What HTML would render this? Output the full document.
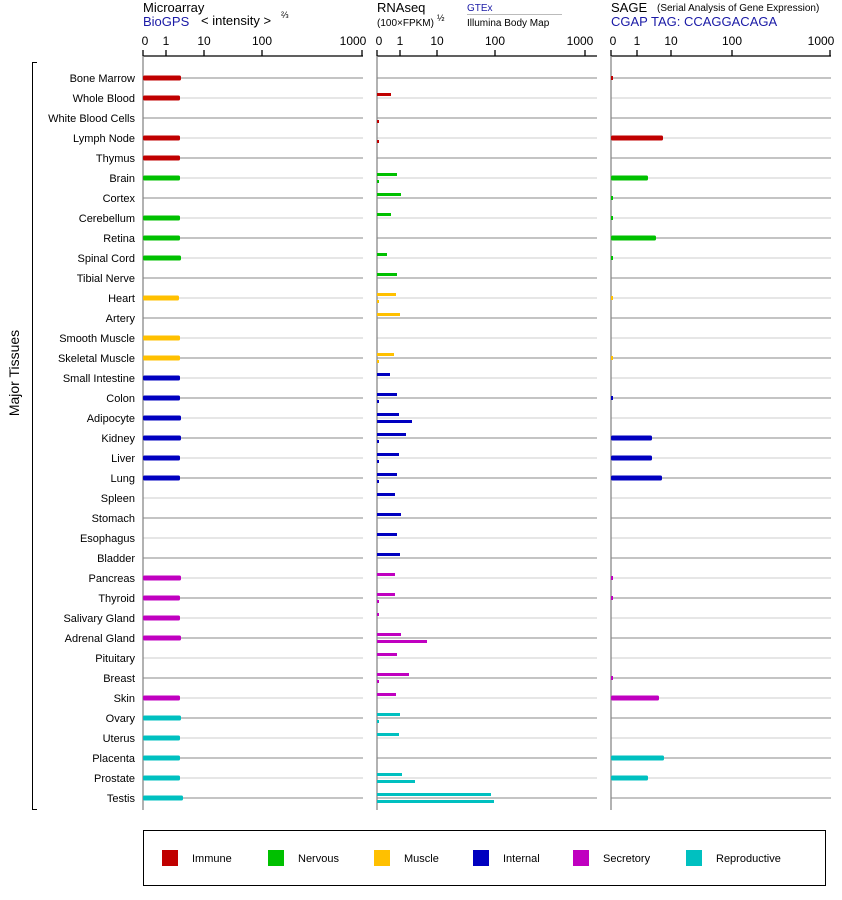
<!DOCTYPE html>
<html><head><meta charset="utf-8"><style>
html,body{margin:0;padding:0;background:#fff}
svg{display:block;font-family:"Liberation Sans",sans-serif}
.l{font-size:11px;text-anchor:end;fill:#000}
.t{font-size:12px;text-anchor:middle;fill:#000}
.d{stroke:#888;stroke-width:1}
.g{stroke:#ccc;stroke-width:1}
.im{fill:#c00000}.ne{fill:#00c000}.mu{fill:#ffc000}.in{fill:#0000c0}.se{fill:#c000c0}.re{fill:#00c0c0}
</style></head><body>
<svg width="842" height="900" viewBox="0 0 842 900" xmlns="http://www.w3.org/2000/svg">
<text x="143" y="12" font-size="13">Microarray</text>
<text x="143" y="26" font-size="13" fill="#1a1aa6">BioGPS</text>
<text x="201" y="25" font-size="13">&lt; intensity &gt;</text>
<text x="281" y="18" font-size="9">⅔</text>
<text x="377" y="12" font-size="13">RNAseq</text>
<text x="377" y="26" font-size="10">(100×FPKM)</text>
<text x="437" y="21" font-size="9">½</text>
<text x="467" y="11" font-size="10" fill="#1a1aa6">GTEx</text>
<line x1="467" y1="14.5" x2="562" y2="14.5" stroke="#bbb"/>
<text x="467" y="26" font-size="10">Illumina Body Map</text>
<text x="611" y="12" font-size="13">SAGE</text>
<text x="657" y="11" font-size="10">(Serial Analysis of Gene Expression)</text>
<text x="611" y="26" font-size="13" fill="#1a1aa6">CGAP TAG: CCAGGACAGA</text>
<g stroke="#000" stroke-width="1.3">
<line x1="143" y1="56" x2="363" y2="56"/>
<line x1="143" y1="50" x2="143" y2="56"/><line x1="166" y1="50" x2="166" y2="56"/><line x1="204" y1="50" x2="204" y2="56"/><line x1="262" y1="50" x2="262" y2="56"/><line x1="362" y1="50" x2="362" y2="56"/>
<line x1="377" y1="56" x2="597" y2="56"/>
<line x1="377" y1="50" x2="377" y2="56"/><line x1="400" y1="50" x2="400" y2="56"/><line x1="437" y1="50" x2="437" y2="56"/><line x1="495" y1="50" x2="495" y2="56"/><line x1="585" y1="50" x2="585" y2="56"/>
<line x1="611" y1="56" x2="831" y2="56"/>
<line x1="611" y1="50" x2="611" y2="56"/><line x1="637" y1="50" x2="637" y2="56"/><line x1="671" y1="50" x2="671" y2="56"/><line x1="732" y1="50" x2="732" y2="56"/><line x1="830" y1="50" x2="830" y2="56"/>
</g>
<g class="t">
<text x="145" y="45">0</text><text x="166" y="45">1</text><text x="204" y="45">10</text><text x="262" y="45">100</text><text x="353" y="45">1000</text>
<text x="379" y="45">0</text><text x="400" y="45">1</text><text x="437" y="45">10</text><text x="495" y="45">100</text><text x="580" y="45">1000</text>
<text x="613" y="45">0</text><text x="637" y="45">1</text><text x="671" y="45">10</text><text x="732" y="45">100</text><text x="821" y="45">1000</text>
</g>
<g>
<g class="d"><line x1="143" y1="78" x2="363" y2="78"/><line x1="377" y1="78" x2="597" y2="78"/><line x1="611" y1="78" x2="831" y2="78"/></g>
<g class="g"><line x1="143" y1="98" x2="363" y2="98"/><line x1="377" y1="98" x2="597" y2="98"/><line x1="611" y1="98" x2="831" y2="98"/></g>
<g class="d"><line x1="143" y1="118" x2="363" y2="118"/><line x1="377" y1="118" x2="597" y2="118"/><line x1="611" y1="118" x2="831" y2="118"/></g>
<g class="g"><line x1="143" y1="138" x2="363" y2="138"/><line x1="377" y1="138" x2="597" y2="138"/><line x1="611" y1="138" x2="831" y2="138"/></g>
<g class="d"><line x1="143" y1="158" x2="363" y2="158"/><line x1="377" y1="158" x2="597" y2="158"/><line x1="611" y1="158" x2="831" y2="158"/></g>
<g class="g"><line x1="143" y1="178" x2="363" y2="178"/><line x1="377" y1="178" x2="597" y2="178"/><line x1="611" y1="178" x2="831" y2="178"/></g>
<g class="d"><line x1="143" y1="198" x2="363" y2="198"/><line x1="377" y1="198" x2="597" y2="198"/><line x1="611" y1="198" x2="831" y2="198"/></g>
<g class="g"><line x1="143" y1="218" x2="363" y2="218"/><line x1="377" y1="218" x2="597" y2="218"/><line x1="611" y1="218" x2="831" y2="218"/></g>
<g class="d"><line x1="143" y1="238" x2="363" y2="238"/><line x1="377" y1="238" x2="597" y2="238"/><line x1="611" y1="238" x2="831" y2="238"/></g>
<g class="g"><line x1="143" y1="258" x2="363" y2="258"/><line x1="377" y1="258" x2="597" y2="258"/><line x1="611" y1="258" x2="831" y2="258"/></g>
<g class="d"><line x1="143" y1="278" x2="363" y2="278"/><line x1="377" y1="278" x2="597" y2="278"/><line x1="611" y1="278" x2="831" y2="278"/></g>
<g class="g"><line x1="143" y1="298" x2="363" y2="298"/><line x1="377" y1="298" x2="597" y2="298"/><line x1="611" y1="298" x2="831" y2="298"/></g>
<g class="d"><line x1="143" y1="318" x2="363" y2="318"/><line x1="377" y1="318" x2="597" y2="318"/><line x1="611" y1="318" x2="831" y2="318"/></g>
<g class="g"><line x1="143" y1="338" x2="363" y2="338"/><line x1="377" y1="338" x2="597" y2="338"/><line x1="611" y1="338" x2="831" y2="338"/></g>
<g class="d"><line x1="143" y1="358" x2="363" y2="358"/><line x1="377" y1="358" x2="597" y2="358"/><line x1="611" y1="358" x2="831" y2="358"/></g>
<g class="g"><line x1="143" y1="378" x2="363" y2="378"/><line x1="377" y1="378" x2="597" y2="378"/><line x1="611" y1="378" x2="831" y2="378"/></g>
<g class="d"><line x1="143" y1="398" x2="363" y2="398"/><line x1="377" y1="398" x2="597" y2="398"/><line x1="611" y1="398" x2="831" y2="398"/></g>
<g class="g"><line x1="143" y1="418" x2="363" y2="418"/><line x1="377" y1="418" x2="597" y2="418"/><line x1="611" y1="418" x2="831" y2="418"/></g>
<g class="d"><line x1="143" y1="438" x2="363" y2="438"/><line x1="377" y1="438" x2="597" y2="438"/><line x1="611" y1="438" x2="831" y2="438"/></g>
<g class="g"><line x1="143" y1="458" x2="363" y2="458"/><line x1="377" y1="458" x2="597" y2="458"/><line x1="611" y1="458" x2="831" y2="458"/></g>
<g class="d"><line x1="143" y1="478" x2="363" y2="478"/><line x1="377" y1="478" x2="597" y2="478"/><line x1="611" y1="478" x2="831" y2="478"/></g>
<g class="g"><line x1="143" y1="498" x2="363" y2="498"/><line x1="377" y1="498" x2="597" y2="498"/><line x1="611" y1="498" x2="831" y2="498"/></g>
<g class="d"><line x1="143" y1="518" x2="363" y2="518"/><line x1="377" y1="518" x2="597" y2="518"/><line x1="611" y1="518" x2="831" y2="518"/></g>
<g class="g"><line x1="143" y1="538" x2="363" y2="538"/><line x1="377" y1="538" x2="597" y2="538"/><line x1="611" y1="538" x2="831" y2="538"/></g>
<g class="d"><line x1="143" y1="558" x2="363" y2="558"/><line x1="377" y1="558" x2="597" y2="558"/><line x1="611" y1="558" x2="831" y2="558"/></g>
<g class="g"><line x1="143" y1="578" x2="363" y2="578"/><line x1="377" y1="578" x2="597" y2="578"/><line x1="611" y1="578" x2="831" y2="578"/></g>
<g class="d"><line x1="143" y1="598" x2="363" y2="598"/><line x1="377" y1="598" x2="597" y2="598"/><line x1="611" y1="598" x2="831" y2="598"/></g>
<g class="g"><line x1="143" y1="618" x2="363" y2="618"/><line x1="377" y1="618" x2="597" y2="618"/><line x1="611" y1="618" x2="831" y2="618"/></g>
<g class="d"><line x1="143" y1="638" x2="363" y2="638"/><line x1="377" y1="638" x2="597" y2="638"/><line x1="611" y1="638" x2="831" y2="638"/></g>
<g class="g"><line x1="143" y1="658" x2="363" y2="658"/><line x1="377" y1="658" x2="597" y2="658"/><line x1="611" y1="658" x2="831" y2="658"/></g>
<g class="d"><line x1="143" y1="678" x2="363" y2="678"/><line x1="377" y1="678" x2="597" y2="678"/><line x1="611" y1="678" x2="831" y2="678"/></g>
<g class="g"><line x1="143" y1="698" x2="363" y2="698"/><line x1="377" y1="698" x2="597" y2="698"/><line x1="611" y1="698" x2="831" y2="698"/></g>
<g class="d"><line x1="143" y1="718" x2="363" y2="718"/><line x1="377" y1="718" x2="597" y2="718"/><line x1="611" y1="718" x2="831" y2="718"/></g>
<g class="g"><line x1="143" y1="738" x2="363" y2="738"/><line x1="377" y1="738" x2="597" y2="738"/><line x1="611" y1="738" x2="831" y2="738"/></g>
<g class="d"><line x1="143" y1="758" x2="363" y2="758"/><line x1="377" y1="758" x2="597" y2="758"/><line x1="611" y1="758" x2="831" y2="758"/></g>
<g class="g"><line x1="143" y1="778" x2="363" y2="778"/><line x1="377" y1="778" x2="597" y2="778"/><line x1="611" y1="778" x2="831" y2="778"/></g>
<g class="d"><line x1="143" y1="798" x2="363" y2="798"/><line x1="377" y1="798" x2="597" y2="798"/><line x1="611" y1="798" x2="831" y2="798"/></g>
</g>
<g stroke="#888" stroke-width="1.3">
<line x1="143" y1="56" x2="143" y2="810"/><line x1="377" y1="56" x2="377" y2="810"/><line x1="611" y1="56" x2="611" y2="810"/>
</g>
<path d="M37 62.5H32.5V809.5H37" fill="none" stroke="#000"/>
<text transform="translate(19,373) rotate(-90)" font-size="14" text-anchor="middle">Major Tissues</text>
<g class="l">
<text x="135" y="82">Bone Marrow</text><text x="135" y="102">Whole Blood</text><text x="135" y="122">White Blood Cells</text><text x="135" y="142">Lymph Node</text><text x="135" y="162">Thymus</text>
<text x="135" y="182">Brain</text><text x="135" y="202">Cortex</text><text x="135" y="222">Cerebellum</text><text x="135" y="242">Retina</text><text x="135" y="262">Spinal Cord</text><text x="135" y="282">Tibial Nerve</text>
<text x="135" y="302">Heart</text><text x="135" y="322">Artery</text><text x="135" y="342">Smooth Muscle</text><text x="135" y="362">Skeletal Muscle</text>
<text x="135" y="382">Small Intestine</text><text x="135" y="402">Colon</text><text x="135" y="422">Adipocyte</text><text x="135" y="442">Kidney</text><text x="135" y="462">Liver</text><text x="135" y="482">Lung</text><text x="135" y="502">Spleen</text><text x="135" y="522">Stomach</text><text x="135" y="542">Esophagus</text><text x="135" y="562">Bladder</text>
<text x="135" y="582">Pancreas</text><text x="135" y="602">Thyroid</text><text x="135" y="622">Salivary Gland</text><text x="135" y="642">Adrenal Gland</text><text x="135" y="662">Pituitary</text><text x="135" y="682">Breast</text><text x="135" y="702">Skin</text>
<text x="135" y="722">Ovary</text><text x="135" y="742">Uterus</text><text x="135" y="762">Placenta</text><text x="135" y="782">Prostate</text><text x="135" y="802">Testis</text>
</g>
<g>
<rect class="im" x="143" y="75.5" width="38" height="5" rx="1.5"/><rect class="im" x="143" y="95.5" width="37" height="5" rx="1.5"/><rect class="im" x="143" y="135.5" width="37" height="5" rx="1.5"/><rect class="im" x="143" y="155.5" width="37" height="5" rx="1.5"/>
<rect class="ne" x="143" y="175.5" width="37" height="5" rx="1.5"/><rect class="ne" x="143" y="215.5" width="37" height="5" rx="1.5"/><rect class="ne" x="143" y="235.5" width="37" height="5" rx="1.5"/><rect class="ne" x="143" y="255.5" width="38" height="5" rx="1.5"/>
<rect class="mu" x="143" y="295.5" width="36" height="5" rx="1.5"/><rect class="mu" x="143" y="335.5" width="37" height="5" rx="1.5"/><rect class="mu" x="143" y="355.5" width="37" height="5" rx="1.5"/>
<rect class="in" x="143" y="375.5" width="37" height="5" rx="1.5"/><rect class="in" x="143" y="395.5" width="37" height="5" rx="1.5"/><rect class="in" x="143" y="415.5" width="38" height="5" rx="1.5"/><rect class="in" x="143" y="435.5" width="38" height="5" rx="1.5"/><rect class="in" x="143" y="455.5" width="37" height="5" rx="1.5"/><rect class="in" x="143" y="475.5" width="37" height="5" rx="1.5"/>
<rect class="se" x="143" y="575.5" width="38" height="5" rx="1.5"/><rect class="se" x="143" y="595.5" width="37" height="5" rx="1.5"/><rect class="se" x="143" y="615.5" width="37" height="5" rx="1.5"/><rect class="se" x="143" y="635.5" width="38" height="5" rx="1.5"/><rect class="se" x="143" y="695.5" width="37" height="5" rx="1.5"/>
<rect class="re" x="143" y="715.5" width="38" height="5" rx="1.5"/><rect class="re" x="143" y="735.5" width="37" height="5" rx="1.5"/><rect class="re" x="143" y="755.5" width="37" height="5" rx="1.5"/><rect class="re" x="143" y="775.5" width="37" height="5" rx="1.5"/><rect class="re" x="143" y="795.5" width="40" height="5" rx="1.5"/>
</g>
<g>
<rect class="im" x="377" y="93" width="14" height="3"/><rect class="im" x="377" y="120" width="2" height="3"/><rect class="im" x="377" y="140" width="2" height="3"/>
<rect class="ne" x="377" y="173" width="20" height="3"/><rect class="ne" x="377" y="180" width="2" height="3"/><rect class="ne" x="377" y="193" width="24" height="3"/><rect class="ne" x="377" y="213" width="14" height="3"/><rect class="ne" x="377" y="253" width="10" height="3"/><rect class="ne" x="377" y="273" width="20" height="3"/>
<rect class="mu" x="377" y="293" width="19" height="3"/><rect class="mu" x="377" y="300" width="2" height="3"/><rect class="mu" x="377" y="313" width="23" height="3"/><rect class="mu" x="377" y="353" width="17" height="3"/><rect class="mu" x="377" y="360" width="2" height="3"/>
<rect class="in" x="377" y="373" width="13" height="3"/><rect class="in" x="377" y="393" width="20" height="3"/><rect class="in" x="377" y="400" width="2" height="3"/><rect class="in" x="377" y="413" width="22" height="3"/><rect class="in" x="377" y="420" width="35" height="3"/><rect class="in" x="377" y="433" width="29" height="3"/><rect class="in" x="377" y="440" width="2" height="3"/><rect class="in" x="377" y="453" width="22" height="3"/><rect class="in" x="377" y="460" width="2" height="3"/><rect class="in" x="377" y="473" width="20" height="3"/><rect class="in" x="377" y="480" width="2" height="3"/><rect class="in" x="377" y="493" width="18" height="3"/><rect class="in" x="377" y="513" width="24" height="3"/><rect class="in" x="377" y="533" width="20" height="3"/><rect class="in" x="377" y="553" width="23" height="3"/>
<rect class="se" x="377" y="573" width="18" height="3"/><rect class="se" x="377" y="593" width="18" height="3"/><rect class="se" x="377" y="600" width="2" height="3"/><rect class="se" x="377" y="613" width="2" height="3"/><rect class="se" x="377" y="633" width="24" height="3"/><rect class="se" x="377" y="640" width="50" height="3"/><rect class="se" x="377" y="653" width="20" height="3"/><rect class="se" x="377" y="673" width="32" height="3"/><rect class="se" x="377" y="680" width="2" height="3"/><rect class="se" x="377" y="693" width="19" height="3"/>
<rect class="re" x="377" y="713" width="23" height="3"/><rect class="re" x="377" y="720" width="2" height="3"/><rect class="re" x="377" y="733" width="22" height="3"/><rect class="re" x="377" y="773" width="25" height="3"/><rect class="re" x="377" y="780" width="38" height="3"/><rect class="re" x="377" y="793" width="114" height="3"/><rect class="re" x="377" y="800" width="117" height="3"/>
</g>
<g>
<rect class="im" x="611" y="76" width="2" height="4"/><rect class="im" x="611" y="135.5" width="52" height="5" rx="1.5"/>
<rect class="ne" x="611" y="175.5" width="37" height="5" rx="1.5"/><rect class="ne" x="611" y="196" width="2" height="4"/><rect class="ne" x="611" y="216" width="2" height="4"/><rect class="ne" x="611" y="235.5" width="45" height="5" rx="1.5"/><rect class="ne" x="611" y="256" width="2" height="4"/>
<rect class="mu" x="611" y="296" width="2" height="4"/><rect class="mu" x="611" y="356" width="2" height="4"/>
<rect class="in" x="611" y="396" width="2" height="4"/><rect class="in" x="611" y="435.5" width="41" height="5" rx="1.5"/><rect class="in" x="611" y="455.5" width="41" height="5" rx="1.5"/><rect class="in" x="611" y="475.5" width="51" height="5" rx="1.5"/>
<rect class="se" x="611" y="576" width="2" height="4"/><rect class="se" x="611" y="596" width="2" height="4"/><rect class="se" x="611" y="676" width="2" height="4"/><rect class="se" x="611" y="695.5" width="48" height="5" rx="1.5"/>
<rect class="re" x="611" y="755.5" width="53" height="5" rx="1.5"/><rect class="re" x="611" y="775.5" width="37" height="5" rx="1.5"/>
</g>
<rect x="143.5" y="830.5" width="682" height="55" fill="none" stroke="#000"/>
<g font-size="11">
<rect class="im" x="162" y="850" width="16" height="16"/><text x="192" y="862">Immune</text>
<rect class="ne" x="268" y="850" width="16" height="16"/><text x="298" y="862">Nervous</text>
<rect class="mu" x="374" y="850" width="16" height="16"/><text x="404" y="862">Muscle</text>
<rect class="in" x="473" y="850" width="16" height="16"/><text x="503" y="862">Internal</text>
<rect class="se" x="573" y="850" width="16" height="16"/><text x="603" y="862">Secretory</text>
<rect class="re" x="686" y="850" width="16" height="16"/><text x="716" y="862">Reproductive</text>
</g>
</svg>
</body></html>
